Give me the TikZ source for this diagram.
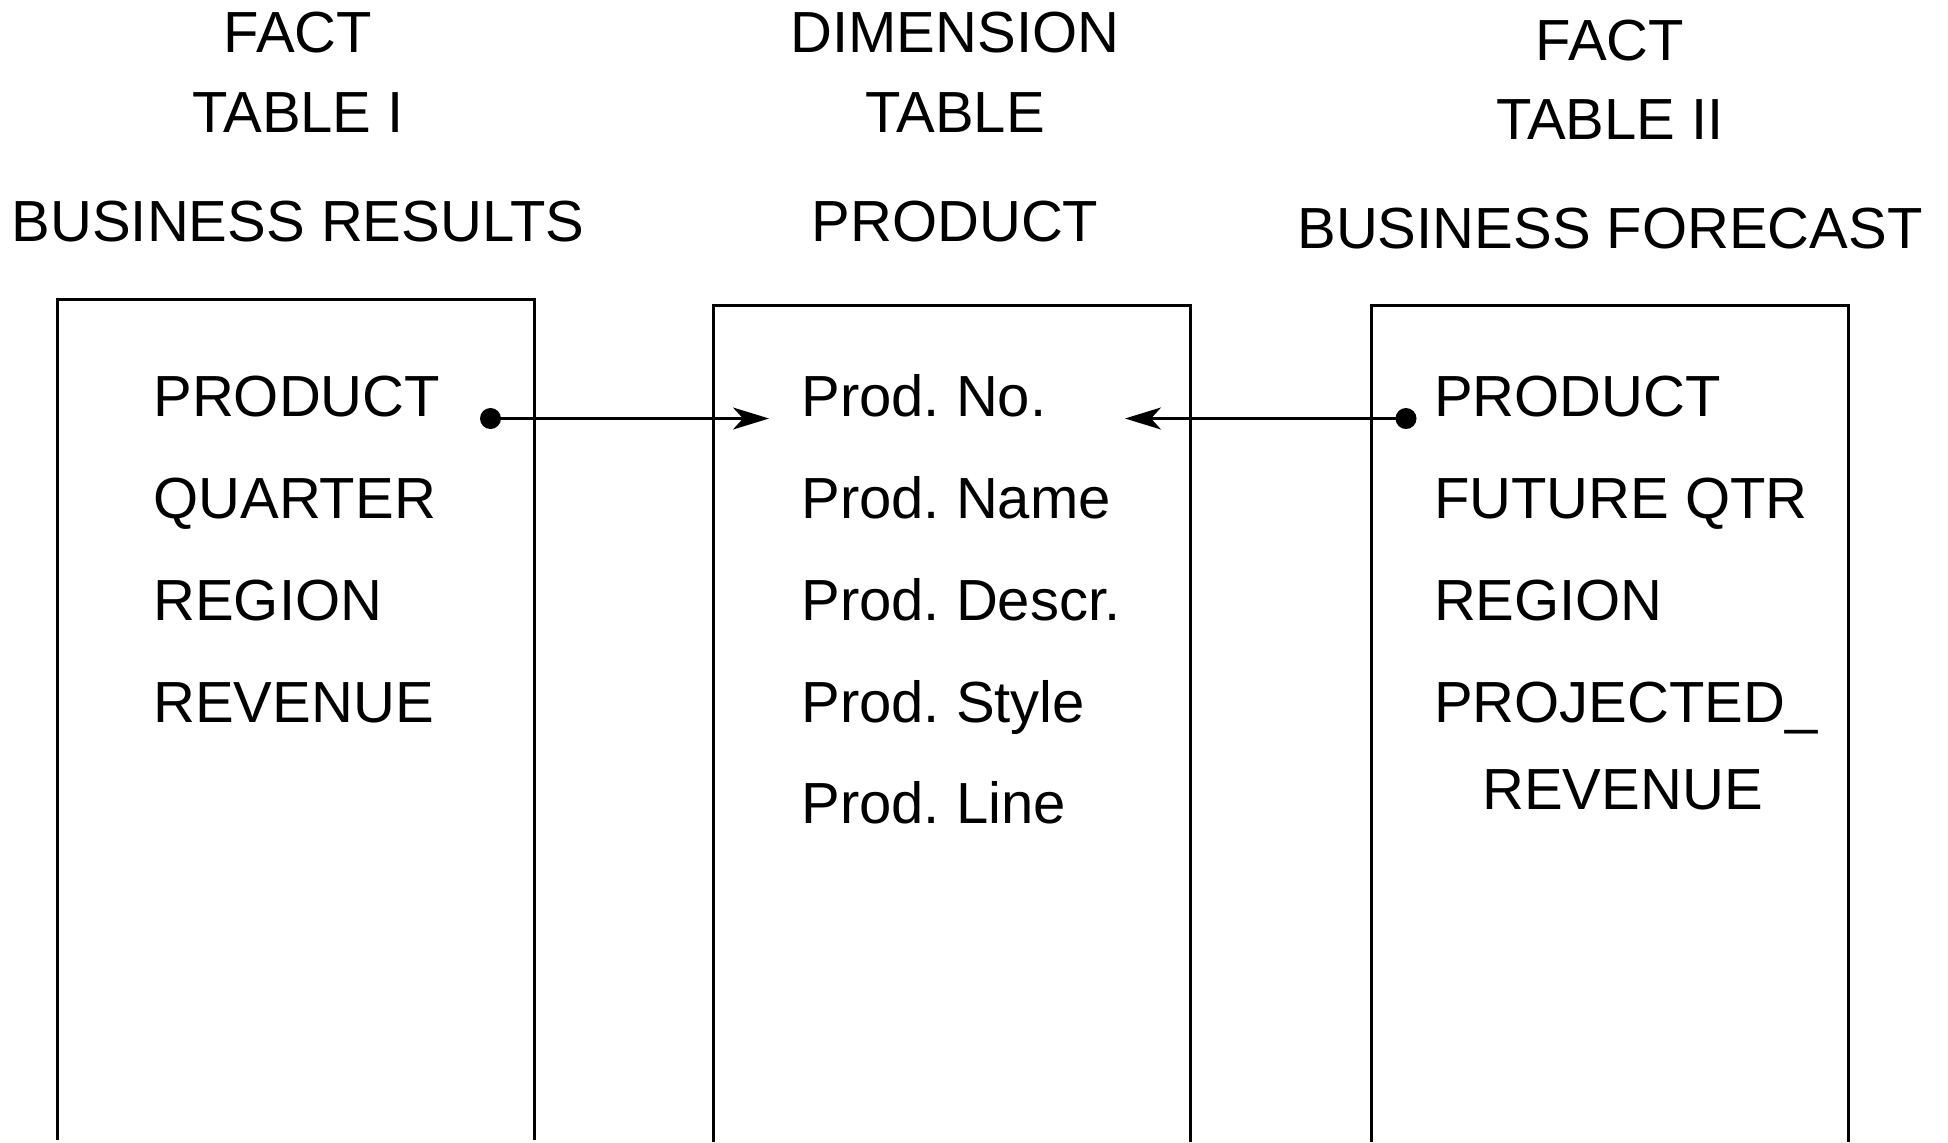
\documentclass[tikz,border=0pt]{standalone}
\usepackage{fontspec}
\setmainfont{Liberation Sans}
\usetikzlibrary{arrows.meta}
\frenchspacing
\begin{document}
\begin{tikzpicture}[x=0.5pt,y=-0.5pt,
  txt/.style={inner sep=0pt,font=\fontsize{29pt}{34pt}\selectfont},
  head/.style={txt,anchor=base},
  item/.style={txt,anchor=base west},
  boxline/.style={line width=1.5pt},
  conn/.style={line width=1.3pt,-{Stealth[length=18pt,width=11pt,inset=5pt]}},
  dot/.style={circle,fill=black,inner sep=0pt,minimum size=10.5pt}]
\useasboundingbox (0,0) rectangle (1948,1142);
% headers
\node[head] (f1) at (298,52.5) {FACT};
\node[head] (t1) at (298,132) {TABLE I};
\node[head] (b1) at (298,241.2) {BUSINESS RESULTS};
\node[head] (f2) at (955,52.5) {DIMENSION};
\node[head] (t2) at (955,132) {TABLE};
\node[head] (b2) at (955,241.2) {PRODUCT};
\node[head] (f3) at (1610,60) {FACT};
\node[head] (t3) at (1610,139.5) {TABLE II};
\node[head] (b3) at (1610,248.7) {BUSINESS FORECAST};
% boxes (open at the bottom)
\draw[boxline] (57,1140) -- (57,299.5) -- (534,299.5) -- (534,1140);
\draw[boxline] (713,1142) -- (713,305.5) -- (1190,305.5) -- (1190,1142);
\draw[boxline] (1371.5,1142) -- (1371.5,305.5) -- (1848.5,305.5) -- (1848.5,1142);
% box 1 items
\node[item] (a1) at (153,416.5) {PRODUCT};
\node[item] (a2) at (153,518.3) {QUARTER};
\node[item] (a3) at (153,620.1) {REGION};
\node[item] (a4) at (153,722) {REVENUE};
% box 2 items
\node[item] (p1) at (801,416.5) {Prod. No.};
\node[item] (p2) at (801,518.3) {Prod. Name};
\node[item] (p3) at (801,620.1) {Prod. Descr.};
\node[item] (p4) at (801,722) {Prod. Style};
\node[item] (p5) at (801,823.9) {Prod. Line};
% box 3 items
\node[item] (c1) at (1433.6,416.5) {PRODUCT};
\node[item] (c2) at (1433.6,518.3) {FUTURE QTR};
\node[item] (c3) at (1433.6,620.1) {REGION};
\node[item] (c4) at (1433.6,722) {PROJECTED\_};
\node[item] (c5) at (1482,809) {REVENUE};
% connectors
\node[dot] (d1) at (490.5,418.5) {};
\node[dot] (d2) at (1406,418.5) {};
\coordinate (e1) at (769,418.5);
\coordinate (e2) at (1125,418.5);
\draw[conn] (d1.center) -- (e1);
\draw[conn] (d2.center) -- (e2);
\end{tikzpicture}
\end{document}
